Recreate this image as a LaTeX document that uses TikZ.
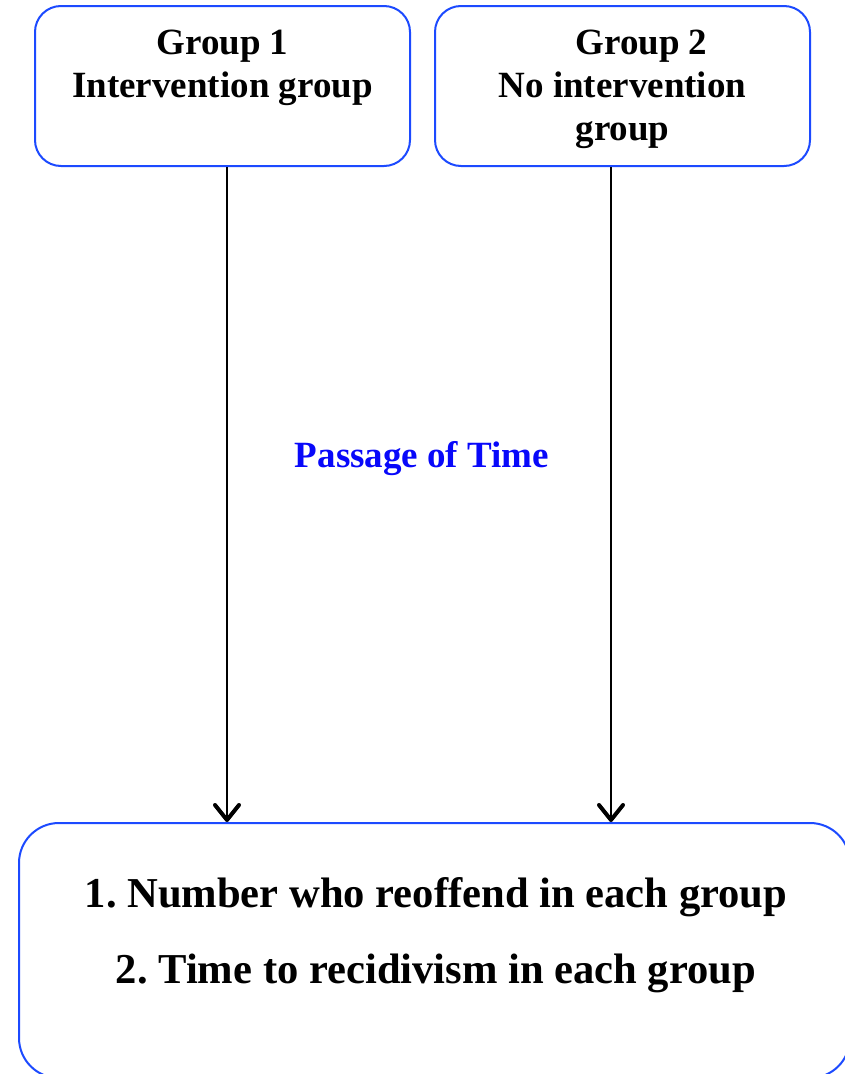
\documentclass[tikz,border=0pt]{standalone}
\usepackage{fontspec}
\setmainfont{Liberation Serif}
\usetikzlibrary{arrows.meta}
\definecolor{boxblue}{RGB}{28,74,255}
\definecolor{timeblue}{RGB}{8,8,250}
\tikzset{every picture/.style={line width=0.75pt}}
\frenchspacing

\begin{document}
\begin{tikzpicture}[x=1pt,y=1pt,yscale=-1,xscale=1,
  groupbox/.style={draw=boxblue,line width=2pt,rounded corners=26pt,minimum width=375pt,minimum height=160pt,inner sep=0pt},
  outbox/.style={draw=boxblue,line width=2pt,rounded corners=40pt,minimum width=831pt,minimum height=255pt,inner sep=0pt},
  grouptext/.style={font=\fontsize{37}{43}\selectfont\bfseries,align=center,inner sep=0pt,anchor=base},
  flow/.style={line width=1.5pt,-{Straight Barb[length=15pt,width=24pt,line width=4pt,round]}}]
\useasboundingbox (0,0) rectangle (845,1074);

%Rounded Rect: groups
\node [groupbox] (grpA) at (222.5,86) {};
\node [groupbox] (grpB) at (622.5,86) {};
%Rounded Rect: outcome
\node [outbox] (outcome) at (434.5,950.5) {};

% Text Node (base = last line)
\node [grouptext] (txtA) at (222.5,97) {Group 1\\Intervention group};
% Text Node
\node [grouptext] (txtB) at (622.5,140) {\hspace*{38pt}Group 2\\No intervention\\group};
% Text Node
\node [grouptext,text=timeblue] (passage) at (422,467) {Passage of Time};
% Text Node
\node [font=\fontsize{42.6}{76}\selectfont\bfseries,align=center,inner sep=0pt,anchor=base] (measures) at (436,983) {1. Number who reoffend in each group\\2. Time to recidivism in each group};

%Straight Lines
\coordinate (colA) at (227,0);
\coordinate (colB) at (611,0);
\draw [flow] (grpA.south -| colA) -- (outcome.north -| colA);
\draw [flow] (grpB.south -| colB) -- (outcome.north -| colB);

\end{tikzpicture}
\end{document}
